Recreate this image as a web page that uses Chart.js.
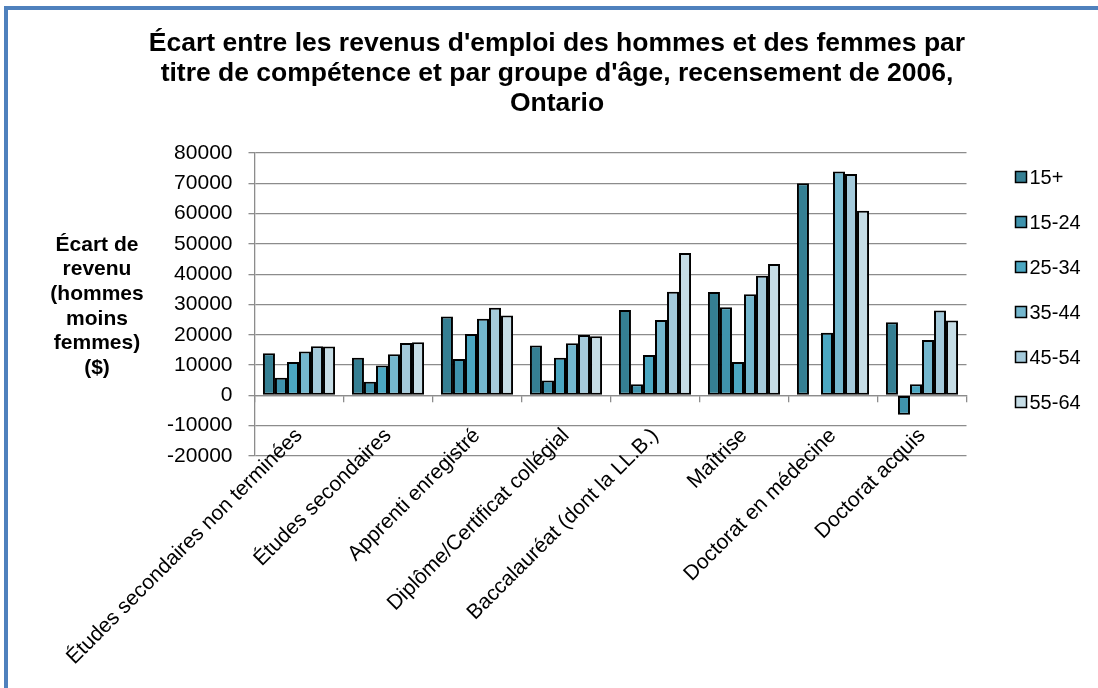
<!DOCTYPE html>
<html>
<head>
<meta charset="utf-8">
<script src="https://cdn.jsdelivr.net/npm/chart.js@4.4.1/dist/chart.umd.min.js"></script>
<style>
html, body { margin: 0; padding: 0; background: #fff; overflow: hidden; }
#frame { position: absolute; left: 4px; top: 6px; width: 1200px; height: 800px;
  border-left: 4px solid #4f81bd; border-top: 4px solid #4f81bd; }
#wrap { position: absolute; left: 0; top: 0; width: 1098px; height: 688px; }
</style>
</head>
<body>
<div id="frame"></div>
<div id="wrap"><canvas id="gapChart"></canvas></div>
<script>
// categories (titre de compétence)
const categories = [
    "Études secondaires non terminées",
    "Études secondaires",
    "Apprenti enregistré",
    "Diplôme/Certificat collégial",
    "Baccalauréat (dont la LL.B.)",
    "Maîtrise",
    "Doctorat en médecine",
    "Doctorat acquis"
];

const ageGroups = ["15+", "15-24", "25-34", "35-44", "45-54", "55-64"];

// écart de revenu (hommes moins femmes)
const gap15plus = [13900, 12400, 26000, 16500, 28200, 34100, 70000, 24100];
const gap15to24 = [5800, 4500, 12000, 4900, 3700, 29100, null, -6400];
const gap25to34 = [11000, 9900, 20300, 12400, 13300, 11000, 20700, 3700];
const gap35to44 = [14500, 13600, 25300, 17200, 24900, 33400, 73900, 18300];
const gap45to54 = [16200, 17300, 28900, 19900, 34200, 39500, 73100, 28000];
const gap55to64 = [16100, 17500, 26400, 19500, 47000, 43400, 60900, 24700];

const yMin = -20000;
const yMax = 80000;
const yStep = 10000;

const titleLines = [
    "Écart entre les revenus d'emploi des hommes et des femmes par",
    "titre de compétence et par groupe d'âge, recensement de 2006,",
    "Ontario"
];
const yTitleLines = ["Écart de", "revenu", "(hommes", "moins", "femmes)", "($)"];

const seriesValues = [gap15plus, gap15to24, gap25to34, gap35to44, gap45to54, gap55to64];
const seriesColors = ["#357f93", "#3f93ad", "#4ba7c2", "#74b7ce", "#a4cadb", "#c6dde6"];

const FONT = '"Liberation Sans", Arial, sans-serif';
const GRID = "#8c8c8c";

Chart.defaults.font.family = FONT;
Chart.defaults.color = "#000";

// draws the horizontal y title on the left and the legend on the right
const sideText = {
    id: "sideText",
    afterDraw(chart) {
        const ctx = chart.ctx;
        const area = chart.chartArea;
        ctx.save();
        ctx.fillStyle = "#000";
        ctx.font = "bold 21px " + FONT;
        ctx.textAlign = "center";
        ctx.textBaseline = "middle";
        const midY = (area.top + area.bottom) / 2 + 2;
        const lh = 24.7;
        const startY = midY - (yTitleLines.length - 1) * lh / 2;
        yTitleLines.forEach((t, i) => ctx.fillText(t, 97, startY + i * lh));

        // legend
        ctx.font = "20px " + FONT;
        ctx.textAlign = "left";
        chart.data.datasets.forEach((ds, i) => {
            const y = area.top + 24 + i * 45;
            const x = area.right + 49;
            ctx.fillStyle = ds.backgroundColor;
            ctx.fillRect(x, y - 5.5, 11, 11);
            ctx.strokeStyle = "#000";
            ctx.lineWidth = 1.5;
            ctx.strokeRect(x, y - 5.5, 11, 11);
            ctx.fillStyle = "#000";
            ctx.fillText(ds.label, x + 14, y + 1);
        });
        ctx.restore();
    }
};

const ctx = document.getElementById("gapChart").getContext("2d");

new Chart(ctx, {
    type: "bar",
    data: {
        labels: categories,
        datasets: ageGroups.map((g, i) => ({
            label: g,
            data: seriesValues[i],
            backgroundColor: seriesColors[i],
            borderColor: "#000",
            borderWidth: 2,
            borderSkipped: false,
            categoryPercentage: 0.81,
            barPercentage: 1.0
        }))
    },
    options: {
        responsive: true,
        maintainAspectRatio: false,
        animation: false,
        devicePixelRatio: 1,
        layout: { padding: { left: 16, right: 0, top: 0, bottom: 232 } },
        plugins: {
            legend: { display: false },
            tooltip: { enabled: false },
            title: {
                display: true,
                text: titleLines,
                color: "#000",
                font: { size: 26.5, weight: "bold", lineHeight: 1.132 },
                padding: { top: 28.7, bottom: 34.3 }
            }
        },
        scales: {
            x: {
                position: { y: 0 },
                grid: {
                    display: true,
                    drawOnChartArea: false,
                    drawTicks: true,
                    tickLength: 6,
                    offset: true,
                    color: GRID,
                    lineWidth: 1.3
                },
                border: { display: true, color: GRID, width: 1.3 },
                ticks: {
                    autoSkip: false,
                    minRotation: 45,
                    maxRotation: 45,
                    padding: 22,
                    color: "#000",
                    font: { size: 21 }
                }
            },
            y: {
                position: "left",
                min: yMin,
                max: yMax,
                ticks: {
                    stepSize: yStep,
                    padding: 16,
                    color: "#000",
                    font: { size: 21 },
                    callback: (v) => String(v)
                },
                grid: { color: GRID, lineWidth: 1.3, tickLength: 6 },
                border: { display: true, color: GRID, width: 1.3 },
                afterFit: function (scale) { scale.width = 238.5; }
            },
            yRight: {
                type: "linear",
                position: "right",
                display: true,
                grid: { drawOnChartArea: false, drawTicks: false },
                border: { display: false },
                ticks: { display: false },
                afterFit: function (scale) { scale.width = 131.5; }
            }
        }
    },
    plugins: [sideText]
});
</script>
</body>
</html>
